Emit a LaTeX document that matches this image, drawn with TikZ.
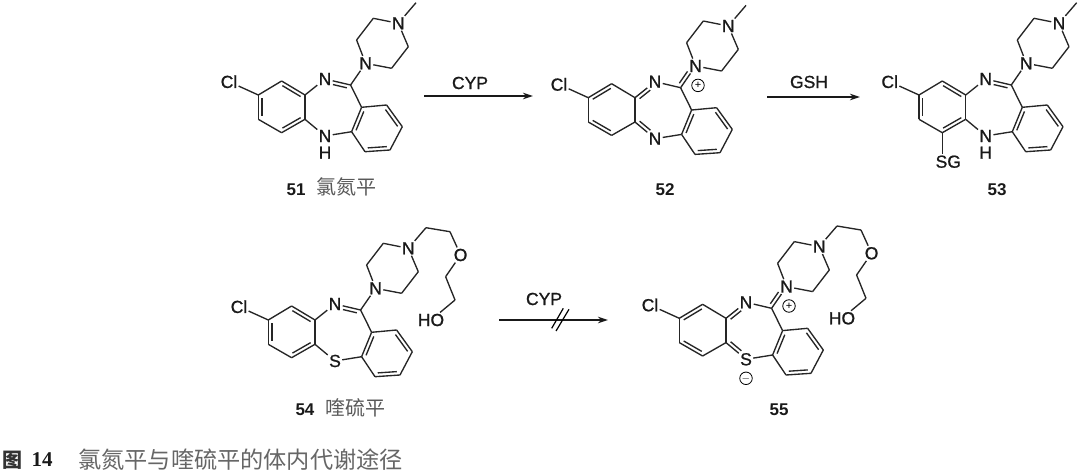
\documentclass[tikz,border=0pt]{standalone}
\usepackage{fontspec}
\setmainfont{Liberation Sans}
\newfontfamily\cjk{Noto Sans CJK SC}
\newfontfamily\capserif{Liberation Serif}
\newfontfamily\atomfont[FakeBold=1]{Liberation Sans}
\usetikzlibrary{calc, arrows.meta}

\tikzset{
  bond/.style={line width=1.35pt, black!85},
  inner/.style={bond, shorten <=3pt, shorten >=3pt},
  innerend/.style={bond, shorten <=3pt, shorten >=9pt},
  innerstart/.style={bond, shorten <=9pt, shorten >=3pt},
  atom/.style={font=\fontsize{17.5}{18}\selectfont\atomfont, inner sep=1.2pt, black!90},
  charge/.style={draw, circle, line width=0.8pt, inner sep=0pt, minimum size=12.5pt, font=\fontsize{11}{11}\selectfont},
  numlabel/.style={font=\fontsize{17}{17}\selectfont\bfseries, inner sep=0pt, black!90},
  cnlabel/.style={font=\fontsize{20}{20}\selectfont\cjk, inner sep=0pt, black!65},
  reaction/.style={line width=1.4pt, black!90, -{Stealth[length=10pt, width=6.5pt]}}
}

% second line of a double bond, on the left of the direction #2 to #3
\newcommand{\dbond}[3][inner]{\draw[#1] ($(#2)!3.6pt!90:(#3)$) -- ($(#3)!3.6pt!-90:(#2)$);}

\newcommand{\skeleton}[1]{
  \coordinate (c1) at (0, 0);
  \coordinate (c2) at (23.3, -14);
  \coordinate (c3) at (46.7, 0);
  \coordinate (c4) at (46.7, 24.3);
  \coordinate (c5) at (23.3, 37.7);
  \coordinate (c6) at (0, 24.3);
  \coordinate (c7) at (92.3, -10);
  \coordinate (d1) at (103.3, 12.3);
  \coordinate (d2) at (128.3, 10);
  \coordinate (d3) at (144, 31.7);
  \coordinate (d4) at (131.7, 55);
  \coordinate (d5) at (106.7, 56.7);
  \coordinate (d6) at (93.3, 36.7);
  \coordinate (p2) at (98.3, -55);
  \coordinate (p3) at (115, -76.7);
  \coordinate (p5) at (150, -48.3);
  \coordinate (p6) at (133.3, -26.7);
  \coordinate (me) at (157.7, -92.3);
  \node[atom] (cl) at (-29.3, -13.3) {Cl};
  \node[atom] (n1) at (66.7, -16) {N};
  \node[atom] (br) at (66.7, 41) {#1};
  \node[atom] (p1) at (107.3, -31.7) {N};
  \node[atom] (p4) at (140, -71.7) {N};
  \foreach \a/\b in {c1/c2, c2/c3, c3/c4, c4/c5, c5/c6, c6/c1, c1/cl, c3/n1, n1/c7, c7/d1,
    d1/d2, d2/d3, d3/d4, d4/d5, d5/d6, d6/d1, c4/br, br/d6, c7/p1,
    p1/p2, p2/p3, p3/p4, p4/p5, p5/p6, p6/p1, p4/me}
    \draw[bond] (\a) -- (\b);
  \dbond{d1}{d6}
  \dbond{d3}{d2}
  \dbond{d5}{d4}
}

\newcommand{\imine}{
  \dbond{c3}{c2}
  \dbond{c1}{c6}
  \dbond{c5}{c4}
  \dbond[innerend]{c7}{n1}
}

\newcommand{\quinoid}{
  \dbond{c2}{c1}
  \dbond{c6}{c5}
  \dbond[innerstart]{n1}{c3}
  \dbond[innerend]{c4}{br}
  \dbond[innerend]{c7}{p1}
  \node[charge] (plus) at (109.7, -12.3) {+};
}

\newcommand{\sidechain}{
  \coordinate (e1) at (181.7, -88.3);
  \coordinate (e2) at (177.3, -43.3);
  \coordinate (e3) at (186.7, -20);
  \node[atom] (ox) at (192.3, -65) {O};
  \node[atom] (ho) at (162.7, 0) {HO};
  \foreach \a/\b in {me/e1, e1/ox, ox/e2, e2/e3, e3/ho}
    \draw[bond] (\a) -- (\b);
}

\begin{document}
\begin{tikzpicture}[x=1pt, y=-1pt]
  \useasboundingbox (0, 0) rectangle (1080, 471);

  \begin{scope}[shift={(258.3, 95)}, name prefix=a-]
    \skeleton{N}
    \imine
    \node[atom] (h) at (66.7, 57.7) {H};
  \end{scope}

  \begin{scope}[shift={(588.3, 97.7)}, name prefix=b-]
    \skeleton{N}
    \quinoid
  \end{scope}

  \begin{scope}[shift={(919, 95)}, name prefix=c-]
    \skeleton{N}
    \imine
    \node[atom] (h) at (66.7, 57.7) {H};
    \node[atom] (sg) at (29.3, 66.7) {SG};
    \draw[bond] (c5) -- (sg.north -| c5);
  \end{scope}

  \begin{scope}[shift={(268.3, 320)}, name prefix=d-]
    \skeleton{S}
    \imine
    \sidechain
  \end{scope}

  \begin{scope}[shift={(679.3, 318.3)}, name prefix=e-]
    \skeleton{S}
    \quinoid
    \sidechain
    \node[charge] (minus) at (66.7, 60) {$-$};
  \end{scope}

  \coordinate (r1s) at (424, 96);
  \coordinate (r1e) at (533, 96);
  \coordinate (r2s) at (767, 97);
  \coordinate (r2e) at (860, 97);
  \coordinate (r3s) at (499, 320);
  \coordinate (r3e) at (608, 320);
  \coordinate (s1s) at (551.7, 328.3);
  \coordinate (s1e) at (563.3, 308.3);
  \coordinate (s2s) at (556, 331);
  \coordinate (s2e) at (569, 309.3);
  \draw[reaction] (r1s) -- (r1e);
  \draw[reaction] (r2s) -- (r2e);
  \draw[reaction] (r3s) -- (r3e);
  \draw[line width=1.2pt] (s1s) -- (s1e);
  \draw[line width=1.2pt] (s2s) -- (s2e);
  \node[atom] (cyp1) at (470, 83) {CYP};
  \node[atom] (gsh) at (809, 82) {GSH};
  \node[atom] (cyp2) at (544, 299) {CYP};

  \node[numlabel] (n51) at (296, 190) {51};
  \node[cnlabel] (clz) at (346, 187) {氯氮平};
  \node[numlabel] (n52) at (665, 190) {52};
  \node[numlabel] (n53) at (997, 190) {53};
  \node[numlabel] (n54) at (305, 410) {54};
  \node[cnlabel] (qtp) at (355, 408) {喹硫平};
  \node[numlabel] (n55) at (779, 410) {55};

  \node[font=\fontsize{20}{20}\selectfont\cjk\bfseries, inner sep=0pt, black!80] (figname) at (12, 460) {图};
  \node[font=\fontsize{21}{21}\selectfont\capserif\bfseries, inner sep=0pt, black!90] (fignum) at (42, 460) {14};
  \node[font=\fontsize{23.2}{24}\selectfont\cjk, inner sep=0pt, black!60, anchor=west] (figtext) at (78, 460) {氯氮平与喹硫平的体内代谢途径};
\end{tikzpicture}
\end{document}
